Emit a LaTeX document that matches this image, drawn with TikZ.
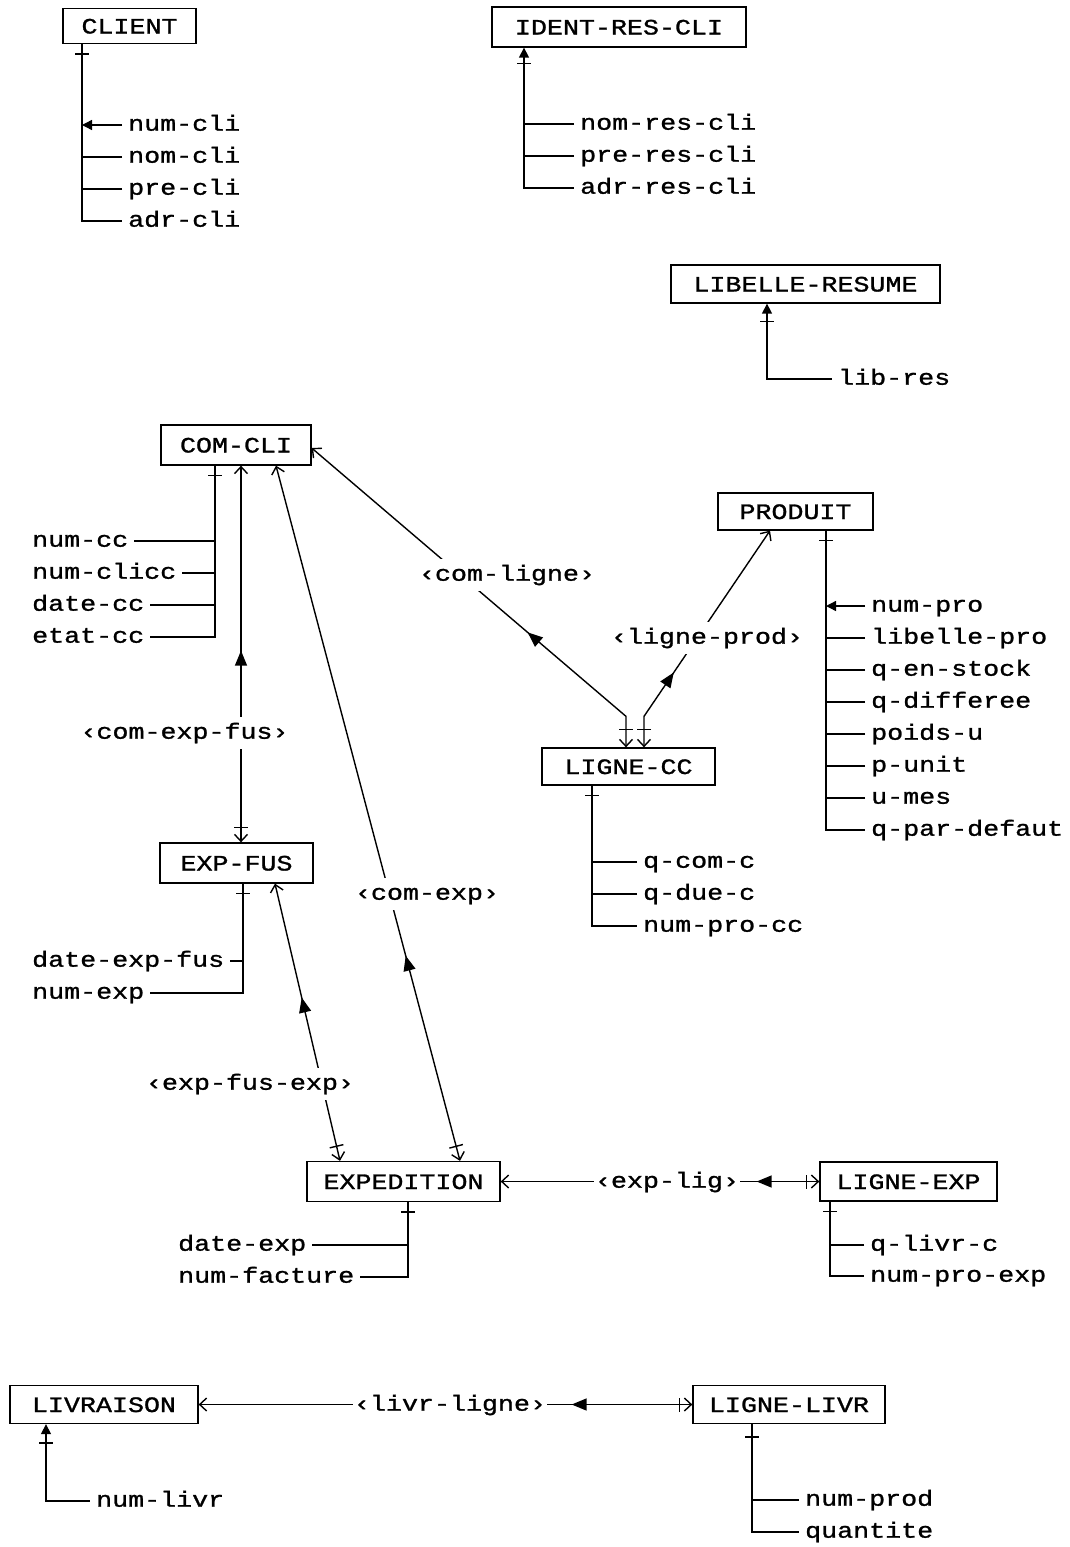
\documentclass[tikz,border=0pt]{standalone}
\usepackage{fontspec}
\setmainfont{Liberation Mono}[FakeStretch=1.212, FakeBold=1.2]
\usetikzlibrary{arrows.meta,calc,decorations.markings}
\newcommand\myfsz{\fontsize{22pt}{26pt}\selectfont}
\tikzset{
  OpenB/.tip={Straight Barb[length=7pt,width=13pt]},
  FillT/.tip={Triangle[length=10pt,width=10pt]},
  ent/.style={draw, line width=1.3pt, minimum width=#1, minimum height=38pt, inner sep=0pt, font=\myfsz, text height=15pt, text depth=0pt},
  attr/.style={inner xsep=6pt, inner ysep=0pt, font=\myfsz, text height=14pt, text depth=2.6pt, anchor=west},
  attrl/.style={inner xsep=6pt, inner ysep=0pt, font=\myfsz, text height=14pt, text depth=2.6pt, anchor=west},
  lbl/.style={fill=white, inner xsep=1pt, inner ysep=8pt, font=\myfsz, text height=14pt, text depth=2.6pt},
  ln/.style={line width=1.4pt},
  crossbar/.style={postaction={decorate,decoration={markings,mark=at position #1 with {\draw[arrows=-,line width=1.4pt] (0pt,-7pt)--(0pt,7pt);}}}},
  fwd/.style={postaction={decorate,decoration={markings,mark=at position #1 with {\arrow{Triangle[length=15pt,width=12pt]}}}}},
  bwd/.style={postaction={decorate,decoration={markings,mark=at position #1 with {\arrowreversed{Triangle[length=15pt,width=12pt]}}}}},
}
\begin{document}
\begin{tikzpicture}[x=1pt,y=-1pt]
\fill[white] (0,0) rectangle (1070,1547);
\useasboundingbox (0,0) rectangle (1070,1547);

% entities
\node[ent=133pt, minimum height=35pt] (client) at (129.5,26) {CLIENT};
\node[ent=254pt, minimum height=40pt] (ident) at (619,27) {IDENT-RES-CLI};
\node[ent=269pt] (libres) at (805.5,284) {LIBELLE-RESUME};
\node[ent=150pt, minimum height=40pt] (comcli) at (236,445) {COM-CLI};
\node[ent=155pt, minimum height=37pt] (produit) at (795.5,511.5) {PRODUIT};
\node[ent=173pt, minimum height=37pt] (lignecc) at (628.5,766.5) {LIGNE-CC};
\node[ent=153pt, minimum height=40pt] (expfus) at (236.5,863) {EXP-FUS};
\node[ent=193pt, minimum height=40pt] (expedition) at (403.5,1181.5) {EXPEDITION};
\node[ent=177pt, minimum height=39pt] (ligneexp) at (908.5,1181.5) {LIGNE-EXP};
\node[ent=188pt] (livraison) at (104,1404.5) {LIVRAISON};
\node[ent=192pt] (lignelivr) at (789,1404.5) {LIGNE-LIVR};

% CLIENT attributes
\node[attr] (cl1) at (122,125) {num-cli};
\node[attr] (cl2) at (122,157) {nom-cli};
\node[attr] (cl3) at (122,189) {pre-cli};
\node[attr] (cl4) at (122,221) {adr-cli};
\coordinate (clT) at ($(client.south)+(-47.5,0)$);
\draw[ln, crossbar=10pt] (clT) |- (cl4.west);
\draw[ln,-{FillT}] (cl1.west) -- (cl1.west -| clT);
\draw[ln] (cl2.west) -- (cl2.west -| clT);
\draw[ln] (cl3.west) -- (cl3.west -| clT);

% IDENT-RES-CLI attributes
\node[attr] (id1) at (574,124) {nom-res-cli};
\node[attr] (id2) at (574,156) {pre-res-cli};
\node[attr] (id3) at (574,188) {adr-res-cli};
\coordinate (idT) at ($(ident.south)+(-95,0)$);
\draw[ln, {FillT}-, crossbar=16pt] (idT) |- (id3.west);
\draw[ln] (id1.west) -- (id1.west -| idT);
\draw[ln] (id2.west) -- (id2.west -| idT);

% LIBELLE-RESUME
\node[attr] (lr1) at (832,379) {lib-res};
\coordinate (lrT) at ($(libres.south)+(-38.5,0)$);
\draw[ln, {FillT}-, crossbar=18pt] (lrT) |- (lr1.west);

% COM-CLI attributes (left)
\node[attrl] (cc1) at (26,541) {num-cc};
\node[attrl] (cc2) at (26,573) {num-clicc};
\node[attrl] (cc3) at (26,605) {date-cc};
\node[attrl] (cc4) at (26,637) {etat-cc};
\coordinate (ccT) at ($(comcli.south)+(-21,0)$);
\draw[ln, crossbar=10pt] (ccT) |- (cc4.east);
\draw[ln] (cc1.east) -- (cc1.east -| ccT);
\draw[ln] (cc2.east) -- (cc2.east -| ccT);
\draw[ln] (cc3.east) -- (cc3.east -| ccT);

% PRODUIT attributes
\node[attr] (pr1) at (865,606) {num-pro};
\node[attr] (pr2) at (865,638) {libelle-pro};
\node[attr] (pr3) at (865,670) {q-en-stock};
\node[attr] (pr4) at (865,702) {q-differee};
\node[attr] (pr5) at (865,734) {poids-u};
\node[attr] (pr6) at (865,766) {p-unit};
\node[attr] (pr7) at (865,798) {u-mes};
\node[attr] (pr8) at (865,830) {q-par-defaut};
\coordinate (prT) at ($(produit.south)+(30.5,0)$);
\draw[ln, crossbar=10pt] (prT) |- (pr8.west);
\draw[ln,-{FillT}] (pr1.west) -- (pr1.west -| prT);
\foreach \k in {2,...,7} \draw[ln] (pr\k.west) -- (pr\k.west -| prT);

% LIGNE-CC attributes
\node[attr] (lc1) at (637,862) {q-com-c};
\node[attr] (lc2) at (637,894) {q-due-c};
\node[attr] (lc3) at (637,926) {num-pro-cc};
\coordinate (lcT) at ($(lignecc.south)+(-36.5,0)$);
\draw[ln, crossbar=10pt] (lcT) |- (lc3.west);
\draw[ln] (lc1.west) -- (lc1.west -| lcT);
\draw[ln] (lc2.west) -- (lc2.west -| lcT);

% EXP-FUS attributes (left)
\node[attrl] (ef1) at (26,961) {date-exp-fus};
\node[attrl] (ef2) at (26,993) {num-exp};
\coordinate (efT) at ($(expfus.south)+(6.5,0)$);
\draw[ln, crossbar=10pt] (efT) |- (ef2.east);
\draw[ln] (ef1.east) -- (ef1.east -| efT);

% EXPEDITION attributes (left)
\node[attrl] (ex1) at (172,1245) {date-exp};
\node[attrl] (ex2) at (172,1277) {num-facture};
\coordinate (exT) at ($(expedition.south)+(4.5,0)$);
\draw[ln, crossbar=10pt] (exT) |- (ex2.east);
\draw[ln] (ex1.east) -- (ex1.east -| exT);

% LIGNE-EXP attributes
\node[attr] (le1) at (864,1245) {q-livr-c};
\node[attr] (le2) at (864,1276) {num-pro-exp};
\coordinate (leT) at ($(ligneexp.south)+(-78.5,0)$);
\draw[ln, crossbar=10pt] (leT) |- (le2.west);
\draw[ln] (le1.west) -- (le1.west -| leT);

% LIVRAISON attribute
\node[attr] (lv1) at (90,1501) {num-livr};
\coordinate (lvT) at ($(livraison.south)+(-58,0)$);
\draw[ln, {FillT}-, crossbar=19pt] (lvT) |- (lv1.west);

% LIGNE-LIVR attributes
\node[attr] (ll1) at (799,1500) {num-prod};
\node[attr] (ll2) at (799,1532) {quantite};
\coordinate (llT) at ($(lignelivr.south)+(-37,0)$);
\draw[ln, crossbar=13pt] (llT) |- (ll2.west);
\draw[ln] (ll1.west) -- (ll1.west -| llT);

% relationships
\draw[ln, {OpenB}-{OpenB}, crossbar=-15pt, bwd=185pt] ($(comcli.south)+(5,0)$) -- ($(expfus.north)+(4.5,0)$);
\draw[ln, {OpenB}-{OpenB}, crossbar=-18pt, bwd=284pt] ($(comcli.east)+(0,3)$) -- ($(lignecc.north)+(-2.5,-31)$) -- ($(lignecc.north)+(-2.5,0)$);
\draw[ln, {OpenB}-{OpenB}, crossbar=18pt, fwd=84pt] ($(lignecc.north)+(15.5,0)$) -- ($(lignecc.north)+(15.5,-31)$) -- ($(produit.south)+(-25.5,0)$);
\draw[ln, {OpenB}-{OpenB}, crossbar=-15pt, bwd=507pt] ($(comcli.south)+(40,0)$) -- ($(expedition.north)+(56.5,0)$);
\draw[ln, {OpenB}-{OpenB}, crossbar=-15pt, bwd=117pt] ($(expfus.south)+(38.5,0)$) -- ($(expedition.north)+(-63.5,0)$);
\draw[ln, {OpenB}-{OpenB}, crossbar=-13pt, bwd=256pt] (expedition.east) -- (ligneexp.west);
\draw[ln, {OpenB}-{OpenB}, crossbar=-13pt, bwd=373pt] (livraison.east) -- (lignelivr.west);

% relationship labels
\node[lbl] (r1) at (184.5,733) {‹com-exp-fus›};
\node[lbl] (r2) at (507,575) {‹com-ligne›};
\node[lbl] (r3) at (707,638) {‹ligne-prod›};
\node[lbl] (r4) at (427,894) {‹com-exp›};
\node[lbl] (r5) at (250,1084) {‹exp-fus-exp›};
\node[lbl] (r6) at (667,1182) {‹exp-lig›};
\node[lbl] (r7) at (450,1405) {‹livr-ligne›};
\end{tikzpicture}
\end{document}
